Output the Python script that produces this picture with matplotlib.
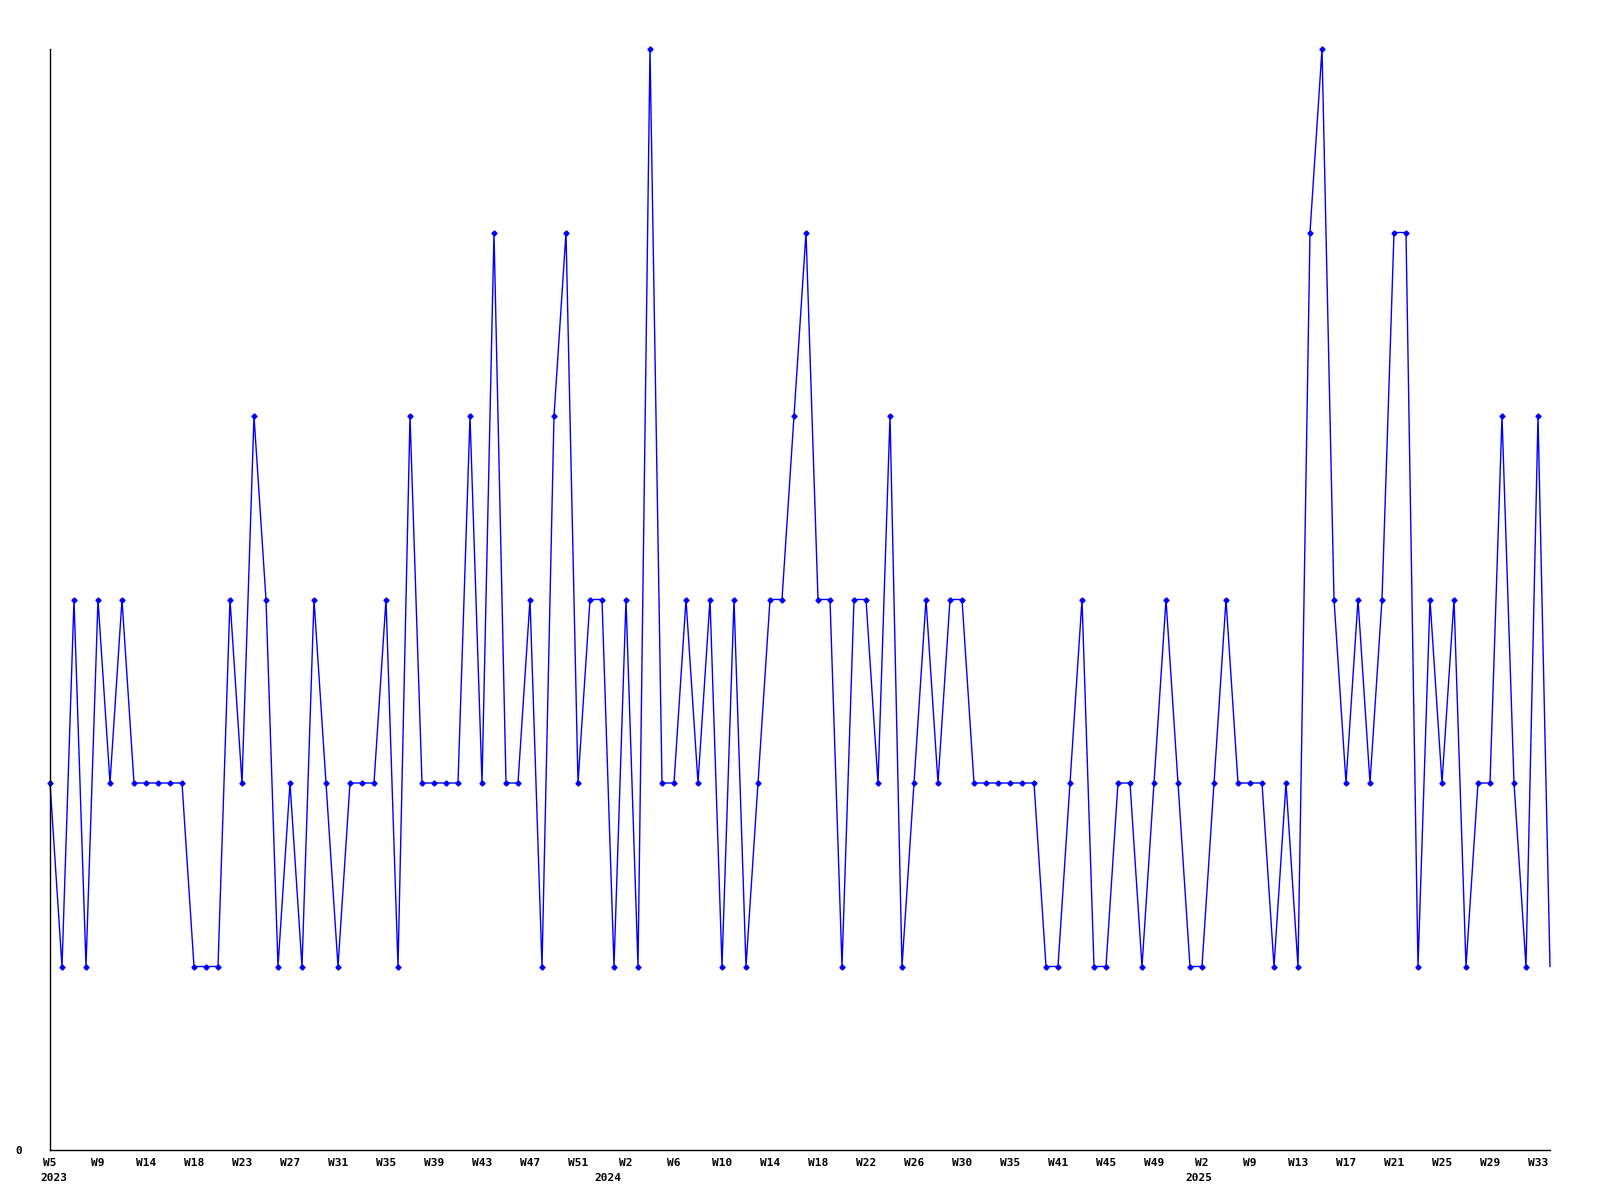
import matplotlib
matplotlib.use("Agg")
import matplotlib.pyplot as plt

# weekly values, one per point (2023 W5 .. 2025 W33)
values = [
    2, 1, 3, 1, 3, 2, 3, 2, 2, 2, 2, 2, 1, 1, 1, 3, 2, 4, 3, 1,
    2, 1, 3, 2, 1, 2, 2, 2, 3, 1, 4, 2, 2, 2, 2, 4, 2, 5, 2, 2,
    3, 1, 4, 5, 2, 3, 3, 1, 3, 1, 6, 2, 2, 3, 2, 3, 1, 3, 1, 2,
    3, 3, 4, 5, 3, 3, 1, 3, 3, 2, 4, 1, 2, 3, 2, 3, 3, 2, 2, 2,
    2, 2, 2, 1, 1, 2, 3, 1, 1, 2, 2, 1, 2, 3, 2, 1, 1, 2, 3, 2,
    2, 2, 1, 2, 1, 5, 6, 3, 2, 3, 2, 3, 5, 5, 1, 3, 2, 3, 1, 2,
    2, 4, 2, 1, 4, 1,
]

# week labels shown every 4th point
week_labels = [
    "W5", "W9", "W14", "W18", "W23", "W27", "W31", "W35", "W39", "W43",
    "W47", "W51", "W2", "W6", "W10", "W14", "W18", "W22", "W26", "W30",
    "W35", "W41", "W45", "W49", "W2", "W9", "W13", "W17", "W21", "W25",
    "W29", "W33",
]
label_step = 4

years = ["2023", "2024", "2025"]
year_pos = [0.3, 46.5, 95.7]

x = list(range(len(values)))

fig = plt.figure(figsize=(16, 12), dpi=100)
ax = fig.add_axes([50 / 1600, 50 / 1200, 1500 / 1600, 1101 / 1200])

ax.plot(x, values, color="#0000ff", lw=1.0, marker="D", ms=2.6,
        markevery=list(range(len(values) - 1)), clip_on=False)

ax.set_xlim(0, len(values) - 1)
ax.set_ylim(0, 6)

for s in ["top", "right"]:
    ax.spines[s].set_visible(False)
for s in ["left", "bottom"]:
    ax.spines[s].set_linewidth(1.0)
    ax.spines[s].set_color("black")

font = dict(family="DejaVu Sans Mono", fontweight="bold", fontsize=8)

ax.set_xticks(range(0, len(week_labels) * label_step, label_step))
ax.set_xticklabels(week_labels, **font)
ax.tick_params(axis="x", length=0, pad=6)
ax.set_yticks([0])
ax.set_yticklabels(["0"], **font)
ax.tick_params(axis="y", length=0, pad=20)

trans = ax.get_xaxis_transform()
for yr, p in zip(years, year_pos):
    ax.text(p, -0.025, yr, transform=trans, ha="center", va="center", **font)

fig.savefig("out.png", dpi=100)
